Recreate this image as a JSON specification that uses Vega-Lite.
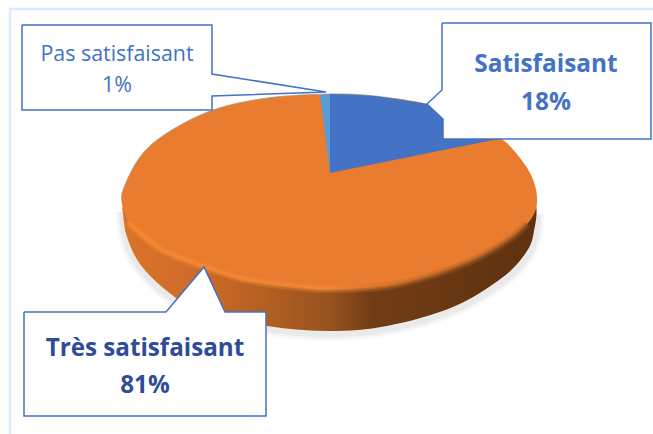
{"$schema":"https://vega.github.io/schema/vega-lite/v6.json","width":653,"height":434,"padding":0,"autosize":{"type":"none"},"background":"white","config":{"view":{"stroke":null}},
"datasets":{
"outline":[
{"s":"frame","i":1,"x":10,"y":434},{"s":"frame","i":2,"x":10,"y":9},{"s":"frame","i":3,"x":653,"y":9},
{"s":"shadow","i":1,"x":122,"y":212},{"s":"shadow","i":2,"x":123,"y":220},{"s":"shadow","i":3,"x":126,"y":240},{"s":"shadow","i":4,"x":139,"y":267},{"s":"shadow","i":5,"x":166,"y":294},{"s":"shadow","i":6,"x":200,"y":314},{"s":"shadow","i":7,"x":267,"y":329},{"s":"shadow","i":8,"x":330,"y":334},{"s":"shadow","i":9,"x":388,"y":329},{"s":"shadow","i":10,"x":454,"y":310},{"s":"shadow","i":11,"x":505,"y":280},{"s":"shadow","i":12,"x":529,"y":254},{"s":"shadow","i":13,"x":536,"y":232},{"s":"shadow","i":14,"x":538,"y":214},
{"s":"rim","i":1,"x":123,"y":205},{"s":"rim","i":2,"x":123,"y":214},{"s":"rim","i":3,"x":127,"y":237},{"s":"rim","i":4,"x":140,"y":264},{"s":"rim","i":5,"x":167,"y":291},{"s":"rim","i":6,"x":200,"y":311},{"s":"rim","i":7,"x":267,"y":326},{"s":"rim","i":8,"x":330,"y":331},{"s":"rim","i":9,"x":387,"y":326},{"s":"rim","i":10,"x":453,"y":307},{"s":"rim","i":11,"x":503,"y":277},{"s":"rim","i":12,"x":527,"y":251},{"s":"rim","i":13,"x":534,"y":231},{"s":"rim","i":14,"x":536,"y":205},{"s":"rim","i":15,"x":524,"y":180},{"s":"rim","i":16,"x":470,"y":150},{"s":"rim","i":17,"x":330,"y":130},{"s":"rim","i":18,"x":190,"y":150},{"s":"rim","i":19,"x":130,"y":182},
{"s":"face","i":1,"x":330,"y":94},{"s":"face","i":2,"x":375,"y":96},{"s":"face","i":3,"x":427,"y":104},{"s":"face","i":4,"x":470,"y":120},{"s":"face","i":5,"x":503,"y":140},{"s":"face","i":6,"x":520,"y":158},{"s":"face","i":7,"x":532,"y":177},{"s":"face","i":8,"x":537,"y":197},{"s":"face","i":9,"x":533,"y":216},{"s":"face","i":10,"x":513,"y":237},{"s":"face","i":11,"x":480,"y":257},{"s":"face","i":12,"x":437,"y":274},{"s":"face","i":13,"x":387,"y":286},{"s":"face","i":14,"x":330,"y":289},{"s":"face","i":15,"x":300,"y":287},{"s":"face","i":16,"x":247,"y":280},{"s":"face","i":17,"x":204,"y":267},{"s":"face","i":18,"x":160,"y":249},{"s":"face","i":19,"x":132,"y":226},{"s":"face","i":20,"x":123,"y":208},{"s":"face","i":21,"x":123,"y":190},{"s":"face","i":22,"x":140,"y":157},{"s":"face","i":23,"x":167,"y":133},{"s":"face","i":24,"x":213,"y":110},{"s":"face","i":25,"x":267,"y":98},
{"s":"edge","i":1,"x":123,"y":200},{"s":"edge","i":2,"x":123,"y":190},{"s":"edge","i":3,"x":140,"y":157},{"s":"edge","i":4,"x":167,"y":133},{"s":"edge","i":5,"x":213,"y":110},{"s":"edge","i":6,"x":267,"y":98},{"s":"edge","i":7,"x":330,"y":94},{"s":"edge","i":8,"x":375,"y":96},{"s":"edge","i":9,"x":427,"y":104},
{"s":"bevel","i":1,"x":129,"y":222},{"s":"bevel","i":2,"x":135,"y":229},{"s":"bevel","i":3,"x":160,"y":249},{"s":"bevel","i":4,"x":204,"y":267},{"s":"bevel","i":5,"x":247,"y":280},{"s":"bevel","i":6,"x":300,"y":287},{"s":"bevel","i":7,"x":330,"y":289},{"s":"bevel","i":8,"x":387,"y":286},{"s":"bevel","i":9,"x":437,"y":274},{"s":"bevel","i":10,"x":480,"y":257},{"s":"bevel","i":11,"x":513,"y":237},{"s":"bevel","i":12,"x":527,"y":224},
{"s":"blue","i":1,"x":330,"y":173},{"s":"blue","i":2,"x":330,"y":94},{"s":"blue","i":3,"x":352,"y":94.5},{"s":"blue","i":4,"x":375,"y":96},{"s":"blue","i":5,"x":400,"y":99.5},{"s":"blue","i":6,"x":427,"y":104},{"s":"blue","i":7,"x":470,"y":120},{"s":"blue","i":8,"x":498,"y":139},
{"s":"sky","i":1,"x":330,"y":173},{"s":"sky","i":2,"x":320,"y":95},{"s":"sky","i":3,"x":330,"y":94},
{"s":"boxA","i":1,"x":22,"y":25},{"s":"boxA","i":2,"x":212,"y":25},{"s":"boxA","i":3,"x":212,"y":74},{"s":"boxA","i":4,"x":326,"y":92},{"s":"boxA","i":5,"x":212,"y":96},{"s":"boxA","i":6,"x":212,"y":110},{"s":"boxA","i":7,"x":22,"y":110},{"s":"boxA","i":8,"x":22,"y":25},
{"s":"boxB","i":1,"x":442,"y":23},{"s":"boxB","i":2,"x":651,"y":23},{"s":"boxB","i":3,"x":651,"y":139},{"s":"boxB","i":4,"x":443,"y":139},{"s":"boxB","i":5,"x":443,"y":119},{"s":"boxB","i":6,"x":427,"y":104},{"s":"boxB","i":7,"x":442,"y":90},{"s":"boxB","i":8,"x":442,"y":23},
{"s":"boxC","i":1,"x":24,"y":312},{"s":"boxC","i":2,"x":166,"y":312},{"s":"boxC","i":3,"x":204,"y":267},{"s":"boxC","i":4,"x":225,"y":312},{"s":"boxC","i":5,"x":266,"y":312},{"s":"boxC","i":6,"x":266,"y":416},{"s":"boxC","i":7,"x":24,"y":416},{"s":"boxC","i":8,"x":24,"y":312}
],
"labels":[
{"name":"Pas satisfaisant","share":0.01,"x":117,"yName":61,"yShare":92,"style":"plain"},
{"name":"Satisfaisant","share":0.18,"x":546,"yName":72,"yShare":110,"style":"blue"},
{"name":"Très satisfaisant","share":0.81,"x":145,"yName":356,"yShare":393,"style":"dark"}
]},
"encoding":{"x":{"field":"x","type":"quantitative","scale":{"domain":[0,653]},"axis":null},"y":{"field":"y","type":"quantitative","scale":{"domain":[434,0]},"axis":null},"order":{"field":"i"}},
"layer":[
{"data":{"name":"outline"},"transform":[{"filter":"datum.s==='frame'"}],"mark":{"type":"line","stroke":"#DAEBFF","strokeWidth":2.5}},
{"data":{"name":"outline"},"transform":[{"filter":"datum.s==='shadow'"}],"mark":{"type":"line","stroke":"#808080","strokeWidth":14,"opacity":0.04,"interpolate":"cardinal"}},
{"data":{"name":"outline"},"transform":[{"filter":"datum.s==='shadow'"}],"mark":{"type":"line","stroke":"#808080","strokeWidth":10,"opacity":0.06,"interpolate":"cardinal"}},
{"data":{"name":"outline"},"transform":[{"filter":"datum.s==='shadow'"}],"mark":{"type":"line","stroke":"#808080","strokeWidth":6,"opacity":0.08,"interpolate":"cardinal"}},
{"data":{"name":"outline"},"transform":[{"filter":"datum.s==='rim'"}],"mark":{"type":"line","interpolate":"cardinal-closed","strokeWidth":0,"fill":{"gradient":"linear","x1":0,"y1":0,"x2":1,"y2":0,"stops":[{"offset":0,"color":"#DB742B"},{"offset":0.2,"color":"#CC6A27"},{"offset":0.36,"color":"#B05E20"},{"offset":0.5,"color":"#97531F"},{"offset":0.6,"color":"#723D15"},{"offset":1,"color":"#5E3210"}]}}},
{"data":{"name":"outline"},"transform":[{"filter":"datum.s==='face'"}],"mark":{"type":"line","interpolate":"cardinal-closed","strokeWidth":0,"fill":"#E97C2E"}},
{"data":{"name":"outline"},"transform":[{"filter":"datum.s==='bevel'"}],"mark":{"type":"line","interpolate":"cardinal","strokeWidth":8,"opacity":0.3,"stroke":{"gradient":"linear","x1":0,"y1":0,"x2":1,"y2":0,"stops":[{"offset":0,"color":"#FB8C33"},{"offset":0.5,"color":"#F98C38"},{"offset":0.62,"color":"#D2702A"},{"offset":0.8,"color":"#A85E24"},{"offset":1,"color":"#9A5420"}]}}},
{"data":{"name":"outline"},"transform":[{"filter":"datum.s==='bevel'"}],"mark":{"type":"line","interpolate":"cardinal","strokeWidth":3.5,"opacity":0.6,"stroke":{"gradient":"linear","x1":0,"y1":0,"x2":1,"y2":0,"stops":[{"offset":0,"color":"#FB8C33"},{"offset":0.5,"color":"#F98C38"},{"offset":0.62,"color":"#D2702A"},{"offset":0.8,"color":"#A85E24"},{"offset":1,"color":"#9A5420"}]}}},
{"data":{"name":"outline"},"transform":[{"filter":"datum.s==='edge'"}],"mark":{"type":"line","interpolate":"cardinal","stroke":"#A89C92","strokeWidth":1,"opacity":0.8}},
{"data":{"name":"outline"},"transform":[{"filter":"datum.s==='blue'"}],"mark":{"type":"line","strokeWidth":0,"fill":"#4472C4"}},
{"data":{"name":"outline"},"transform":[{"filter":"datum.s==='sky'"}],"mark":{"type":"line","strokeWidth":0,"fill":"#5B9BD5"}},
{"data":{"name":"outline"},"transform":[{"filter":"datum.s==='boxA'||datum.s==='boxB'||datum.s==='boxC'"}],"mark":{"type":"line","fill":"white","stroke":"#4472C4","strokeWidth":1.5},"encoding":{"detail":{"field":"s"}}},
{"data":{"name":"labels"},"transform":[{"filter":"datum.style==='plain'"}],"mark":{"type":"text","font":"Open Sans","fontSize":21.4,"color":"#4472C4","align":"center","baseline":"alphabetic"},"encoding":{"y":{"field":"yName","type":"quantitative"},"order":null,"text":{"field":"name"}}},
{"data":{"name":"labels"},"transform":[{"filter":"datum.style==='plain'"}],"mark":{"type":"text","font":"Open Sans","fontSize":21.4,"color":"#4472C4","align":"center","baseline":"alphabetic"},"encoding":{"y":{"field":"yShare","type":"quantitative"},"order":null,"text":{"field":"share","format":".0%"}}},
{"data":{"name":"labels"},"transform":[{"filter":"datum.style==='blue'"}],"mark":{"type":"text","font":"Open Sans","fontWeight":"bold","fontSize":24.4,"color":"#4472C4","align":"center","baseline":"alphabetic"},"encoding":{"y":{"field":"yName","type":"quantitative"},"order":null,"text":{"field":"name"}}},
{"data":{"name":"labels"},"transform":[{"filter":"datum.style==='blue'"}],"mark":{"type":"text","font":"Open Sans","fontWeight":"bold","fontSize":24.4,"color":"#4472C4","align":"center","baseline":"alphabetic"},"encoding":{"y":{"field":"yShare","type":"quantitative"},"order":null,"text":{"field":"share","format":".0%"}}},
{"data":{"name":"labels"},"transform":[{"filter":"datum.style==='dark'"}],"mark":{"type":"text","font":"Open Sans","fontWeight":"bold","fontSize":24.2,"color":"#2F4B9A","align":"center","baseline":"alphabetic"},"encoding":{"y":{"field":"yName","type":"quantitative"},"order":null,"text":{"field":"name"}}},
{"data":{"name":"labels"},"transform":[{"filter":"datum.style==='dark'"}],"mark":{"type":"text","font":"Open Sans","fontWeight":"bold","fontSize":24.2,"color":"#2F4B9A","align":"center","baseline":"alphabetic"},"encoding":{"y":{"field":"yShare","type":"quantitative"},"order":null,"text":{"field":"share","format":".0%"}}}
]}
